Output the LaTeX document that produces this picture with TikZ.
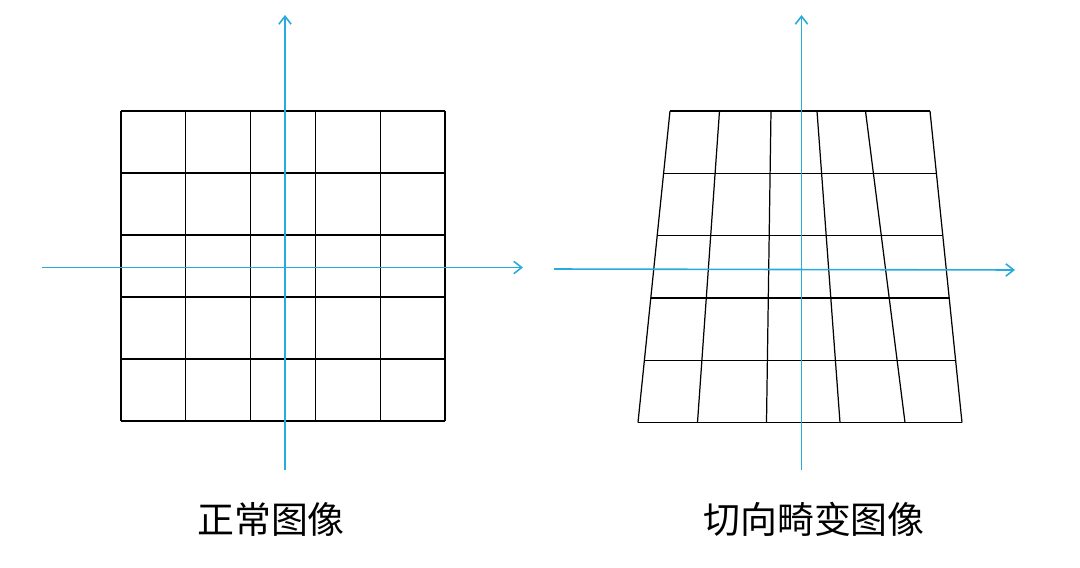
\documentclass[tikz,border=0pt]{standalone}
\usepackage{fontspec}
\newfontfamily\cjk{Noto Sans CJK SC}
\usetikzlibrary{arrows.meta}
\usetikzlibrary{calc}
\definecolor{axisblue}{RGB}{40,170,220}

\begin{document}
\begin{tikzpicture}[x=0.02cm,y=-0.02cm,line width=0.7pt,
		axis/.style={draw=axisblue,line width=0.9pt,-{Straight Barb[length=4.5pt,width=7pt]}},
		caption/.style={font=\cjk\fontsize{21}{25}\selectfont}]
	% Canvas, in pixel units of the picture.
	\useasboundingbox (0,0) rectangle (1080,568);
	
	% Define edges of the normal grid.
	\def\lx{121}      %Left edge.
	\def\rx{445}      %Right edge.
	\def\ty{111}      %Top edge.
	\def\by{421}      %Bottom edge.
	
	% NORMAL GRID
	\foreach \i in {0,...,5}{
		\draw ({\lx+\i*(\rx-\lx)/5},\ty) -- ({\lx+\i*(\rx-\lx)/5},\by);
		\draw (\lx,{\ty+\i*(\by-\ty)/5}) -- (\rx,{\ty+\i*(\by-\ty)/5});
	}
	
	% Define corners of the distorted grid.
	\coordinate (tl) at (670,111);
	\coordinate (tr) at (930,111);
	\coordinate (bl) at (638,422.5);
	\coordinate (br) at (962,422.5);
	
	% DISTORTED GRID
	\foreach \t/\b in {670/638,719.5/697.5,771/766.5,817/840,865.5/905,930/962}
		\draw (\t,111) -- (\b,422.5);
	\foreach \i in {0,...,5}
		\draw ($(tl)!\i/5!(bl)$) -- ($(tr)!\i/5!(br)$);
	
	% Axis end points.
	\coordinate (xa) at (42,267.5);
	\coordinate (xb) at (523,267.5);
	\coordinate (ya) at (285,470);
	\coordinate (yb) at (285,15);
	\coordinate (ua) at (554,269);
	\coordinate (ub) at (1015,270);
	\coordinate (va) at (801.5,470);
	\coordinate (vb) at (801.5,15);
	
	% Draw axes.
	\draw[axis] (xa) -- (xb);
	\draw[axis] (ya) -- (yb);
	\draw[axis] (ua) -- (ub);
	\draw[axis] (va) -- (vb);
	
	% Captions.
	\node[caption] (normal) at (271,519) {正常图像};
	\node[caption] (tangential) at (814,519) {切向畸变图像};
\end{tikzpicture}
\end{document}
